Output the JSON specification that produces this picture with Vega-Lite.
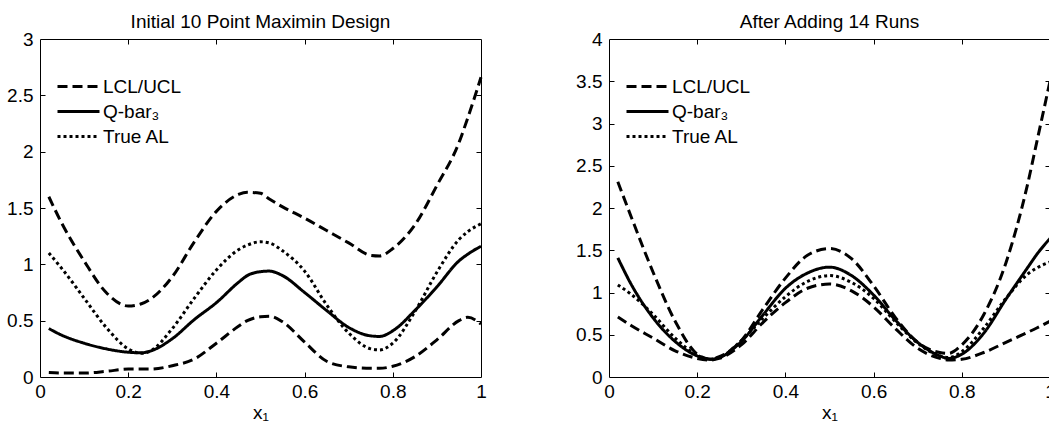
{
  "$schema": "https://vega.github.io/schema/vega-lite/v6.json",
  "padding": {"left": 6, "top": 12, "right": 0, "bottom": 0},
  "config": {
    "font": "Liberation Sans",
    "view": {"stroke": "black", "strokeWidth": 1},
    "axis": {"grid": false, "domain": false, "tickColor": "black", "tickWidth": 1, "labelFontSize": 19, "labelColor": "black", "labelFont": "Liberation Sans", "titleFontSize": 19, "titleFont": "Liberation Sans", "titleFontWeight": "normal", "titleColor": "black", "labelFlush": false, "labelOverlap": false},
    "axisX": {"labelPadding": 5},
    "axisY": {"labelPadding": 7},
    "title": {"fontSize": 19, "fontWeight": "normal", "color": "black", "offset": -2, "font": "Liberation Sans"},
    "legend": {"orient": "none", "legendX": 29, "legendY": 38, "padding": 0, "symbolType": "M-3,0H3", "symbolSize": 196, "symbolStrokeWidth": 3, "symbolStrokeColor": "black", "symbolFillColor": "transparent", "labelFontSize": 19, "labelFont": "Liberation Sans", "labelColor": "black", "labelOffset": 15, "rowPadding": 5, "title": null}
  },
  "datasets": {
    "left": [
      {"x": 0.02, "UCL": 1.60, "Qbar": 0.43, "AL": 1.10, "LCL": 0.04},
      {"x": 0.05, "UCL": 1.36, "Qbar": 0.37, "AL": 0.96, "LCL": 0.035},
      {"x": 0.1, "UCL": 1.03, "Qbar": 0.30, "AL": 0.70, "LCL": 0.035},
      {"x": 0.15, "UCL": 0.75, "Qbar": 0.25, "AL": 0.44, "LCL": 0.05},
      {"x": 0.2, "UCL": 0.63, "Qbar": 0.22, "AL": 0.25, "LCL": 0.07},
      {"x": 0.23, "UCL": 0.65, "Qbar": 0.215, "AL": 0.21, "LCL": 0.07},
      {"x": 0.25, "UCL": 0.69, "Qbar": 0.23, "AL": 0.23, "LCL": 0.07},
      {"x": 0.3, "UCL": 0.89, "Qbar": 0.34, "AL": 0.43, "LCL": 0.10},
      {"x": 0.35, "UCL": 1.20, "Qbar": 0.51, "AL": 0.70, "LCL": 0.16},
      {"x": 0.4, "UCL": 1.47, "Qbar": 0.66, "AL": 0.95, "LCL": 0.30},
      {"x": 0.45, "UCL": 1.62, "Qbar": 0.84, "AL": 1.13, "LCL": 0.45},
      {"x": 0.47, "UCL": 1.64, "Qbar": 0.90, "AL": 1.17, "LCL": 0.50},
      {"x": 0.5, "UCL": 1.63, "Qbar": 0.935, "AL": 1.20, "LCL": 0.535},
      {"x": 0.52, "UCL": 1.58, "Qbar": 0.94, "AL": 1.19, "LCL": 0.54},
      {"x": 0.55, "UCL": 1.51, "Qbar": 0.90, "AL": 1.12, "LCL": 0.49},
      {"x": 0.6, "UCL": 1.41, "Qbar": 0.75, "AL": 0.94, "LCL": 0.31},
      {"x": 0.65, "UCL": 1.30, "Qbar": 0.59, "AL": 0.64, "LCL": 0.14},
      {"x": 0.7, "UCL": 1.19, "Qbar": 0.44, "AL": 0.39, "LCL": 0.09},
      {"x": 0.75, "UCL": 1.08, "Qbar": 0.365, "AL": 0.25, "LCL": 0.077},
      {"x": 0.77, "UCL": 1.075, "Qbar": 0.36, "AL": 0.24, "LCL": 0.077},
      {"x": 0.8, "UCL": 1.14, "Qbar": 0.41, "AL": 0.30, "LCL": 0.095},
      {"x": 0.85, "UCL": 1.35, "Qbar": 0.59, "AL": 0.58, "LCL": 0.18},
      {"x": 0.9, "UCL": 1.70, "Qbar": 0.80, "AL": 0.93, "LCL": 0.33},
      {"x": 0.95, "UCL": 2.08, "Qbar": 1.03, "AL": 1.22, "LCL": 0.50},
      {"x": 0.97, "UCL": 2.30, "Qbar": 1.09, "AL": 1.29, "LCL": 0.53},
      {"x": 1.0, "UCL": 2.66, "Qbar": 1.16, "AL": 1.36, "LCL": 0.47}
    ],
    "right": [
      {"x": 0.02, "UCL": 2.31, "Qbar": 1.41, "AL": 1.09, "LCL": 0.71},
      {"x": 0.05, "UCL": 1.90, "Qbar": 1.10, "AL": 0.98, "LCL": 0.61},
      {"x": 0.1, "UCL": 1.24, "Qbar": 0.70, "AL": 0.74, "LCL": 0.46},
      {"x": 0.15, "UCL": 0.66, "Qbar": 0.42, "AL": 0.46, "LCL": 0.31},
      {"x": 0.2, "UCL": 0.27, "Qbar": 0.25, "AL": 0.26, "LCL": 0.22},
      {"x": 0.23, "UCL": 0.21, "Qbar": 0.21, "AL": 0.21, "LCL": 0.20},
      {"x": 0.25, "UCL": 0.24, "Qbar": 0.23, "AL": 0.23, "LCL": 0.22},
      {"x": 0.3, "UCL": 0.43, "Qbar": 0.42, "AL": 0.43, "LCL": 0.38},
      {"x": 0.35, "UCL": 0.81, "Qbar": 0.74, "AL": 0.70, "LCL": 0.65},
      {"x": 0.4, "UCL": 1.17, "Qbar": 1.05, "AL": 0.95, "LCL": 0.88},
      {"x": 0.45, "UCL": 1.44, "Qbar": 1.23, "AL": 1.13, "LCL": 1.05},
      {"x": 0.5, "UCL": 1.52, "Qbar": 1.30, "AL": 1.20, "LCL": 1.10},
      {"x": 0.55, "UCL": 1.40, "Qbar": 1.20, "AL": 1.12, "LCL": 1.02},
      {"x": 0.6, "UCL": 1.08, "Qbar": 0.97, "AL": 0.93, "LCL": 0.83},
      {"x": 0.65, "UCL": 0.70, "Qbar": 0.67, "AL": 0.65, "LCL": 0.57},
      {"x": 0.7, "UCL": 0.41, "Qbar": 0.41, "AL": 0.40, "LCL": 0.34},
      {"x": 0.75, "UCL": 0.29, "Qbar": 0.25, "AL": 0.25, "LCL": 0.22},
      {"x": 0.77, "UCL": 0.28, "Qbar": 0.22, "AL": 0.23, "LCL": 0.20},
      {"x": 0.8, "UCL": 0.38, "Qbar": 0.27, "AL": 0.30, "LCL": 0.21},
      {"x": 0.85, "UCL": 0.74, "Qbar": 0.52, "AL": 0.58, "LCL": 0.29},
      {"x": 0.9, "UCL": 1.35, "Qbar": 0.92, "AL": 0.93, "LCL": 0.41},
      {"x": 0.95, "UCL": 2.30, "Qbar": 1.30, "AL": 1.22, "LCL": 0.53},
      {"x": 0.97, "UCL": 2.78, "Qbar": 1.45, "AL": 1.29, "LCL": 0.58},
      {"x": 1.0, "UCL": 3.50, "Qbar": 1.64, "AL": 1.36, "LCL": 0.66}
    ]
  },
  "spacing": 87,
  "resolve": {"scale": {"strokeDash": "independent", "x": "independent", "y": "independent"}, "legend": {"strokeDash": "independent"}},
  "hconcat": [
    {
      "width": 441, "height": 338,
      "title": "Initial 10 Point Maximin Design",
      "data": {"name": "left"},
      "transform": [{"fold": ["UCL", "Qbar", "AL", "LCL"], "as": ["curve", "y"]}],
      "resolve": {"axis": {"x": "independent", "y": "independent"}},
      "layer": [
        {
          "mark": {"type": "line", "color": "black", "strokeWidth": 3, "strokeCap": "butt", "interpolate": "monotone"},
          "encoding": {
            "x": {"field": "x", "type": "quantitative", "scale": {"domain": [0, 1], "nice": false}, "axis": {"orient": "bottom", "ticks": false, "title": "x₁", "titlePadding": 2, "values": [0, 0.2, 0.4, 0.6, 0.8, 1], "format": "~g"}},
            "y": {"field": "y", "type": "quantitative", "scale": {"domain": [0, 3], "nice": false}, "axis": {"orient": "left", "ticks": false, "title": null, "values": [0, 0.5, 1, 1.5, 2, 2.5, 3], "format": "~g"}},
            "strokeDash": {"field": "curve", "type": "nominal", "scale": {"domain": ["UCL", "Qbar", "AL", "LCL"], "range": [[10, 5], [1, 0], [3, 3], [10, 5]]}, "legend": {"values": ["UCL", "Qbar", "AL"], "labelExpr": "datum.value == 'UCL' ? 'LCL/UCL' : datum.value == 'Qbar' ? 'Q-bar₃' : 'True AL'"}}
          }
        },
        {
          "mark": {"type": "line", "opacity": 0},
          "encoding": {
            "x": {"field": "x", "type": "quantitative", "scale": {"domain": [0, 1], "nice": false}, "axis": {"orient": "bottom", "offset": -5, "tickSize": 5, "title": null, "labels": false, "values": [0.2, 0.4, 0.6, 0.8]}},
            "y": {"field": "y", "type": "quantitative", "scale": {"domain": [0, 3], "nice": false}, "axis": {"orient": "left", "offset": -5, "tickSize": 5, "title": null, "labels": false, "values": [0.5, 1, 1.5, 2, 2.5]}}
          }
        },
        {
          "mark": {"type": "line", "opacity": 0},
          "encoding": {
            "x": {"field": "x", "type": "quantitative", "scale": {"domain": [0, 1], "nice": false}, "axis": {"orient": "top", "offset": -5, "tickSize": 5, "title": null, "labels": false, "values": [0.2, 0.4, 0.6, 0.8]}},
            "y": {"field": "y", "type": "quantitative", "scale": {"domain": [0, 3], "nice": false}, "axis": {"orient": "right", "offset": -5, "tickSize": 5, "title": null, "labels": false, "values": [0.5, 1, 1.5, 2, 2.5]}}
          }
        }
      ]
    },
    {
      "width": 441, "height": 338,
      "title": "After Adding 14 Runs",
      "data": {"name": "right"},
      "transform": [{"fold": ["UCL", "Qbar", "AL", "LCL"], "as": ["curve", "y"]}],
      "resolve": {"axis": {"x": "independent", "y": "independent"}},
      "layer": [
        {
          "mark": {"type": "line", "color": "black", "strokeWidth": 3, "strokeCap": "butt", "interpolate": "monotone"},
          "encoding": {
            "x": {"field": "x", "type": "quantitative", "scale": {"domain": [0, 1], "nice": false}, "axis": {"orient": "bottom", "ticks": false, "title": "x₁", "titlePadding": 2, "values": [0, 0.2, 0.4, 0.6, 0.8, 1], "format": "~g"}},
            "y": {"field": "y", "type": "quantitative", "scale": {"domain": [0, 4], "nice": false}, "axis": {"orient": "left", "ticks": false, "title": null, "values": [0, 0.5, 1, 1.5, 2, 2.5, 3, 3.5, 4], "format": "~g"}},
            "strokeDash": {"field": "curve", "type": "nominal", "scale": {"domain": ["UCL", "Qbar", "AL", "LCL"], "range": [[10, 5], [1, 0], [3, 3], [10, 5]]}, "legend": {"values": ["UCL", "Qbar", "AL"], "labelExpr": "datum.value == 'UCL' ? 'LCL/UCL' : datum.value == 'Qbar' ? 'Q-bar₃' : 'True AL'"}}
          }
        },
        {
          "mark": {"type": "line", "opacity": 0},
          "encoding": {
            "x": {"field": "x", "type": "quantitative", "scale": {"domain": [0, 1], "nice": false}, "axis": {"orient": "bottom", "offset": -5, "tickSize": 5, "title": null, "labels": false, "values": [0.2, 0.4, 0.6, 0.8]}},
            "y": {"field": "y", "type": "quantitative", "scale": {"domain": [0, 4], "nice": false}, "axis": {"orient": "left", "offset": -5, "tickSize": 5, "title": null, "labels": false, "values": [0.5, 1, 1.5, 2, 2.5, 3, 3.5]}}
          }
        },
        {
          "mark": {"type": "line", "opacity": 0},
          "encoding": {
            "x": {"field": "x", "type": "quantitative", "scale": {"domain": [0, 1], "nice": false}, "axis": {"orient": "top", "offset": -5, "tickSize": 5, "title": null, "labels": false, "values": [0.2, 0.4, 0.6, 0.8]}},
            "y": {"field": "y", "type": "quantitative", "scale": {"domain": [0, 4], "nice": false}, "axis": {"orient": "right", "offset": -5, "tickSize": 5, "title": null, "labels": false, "values": [0.5, 1, 1.5, 2, 2.5, 3, 3.5]}}
          }
        }
      ]
    }
  ]
}
